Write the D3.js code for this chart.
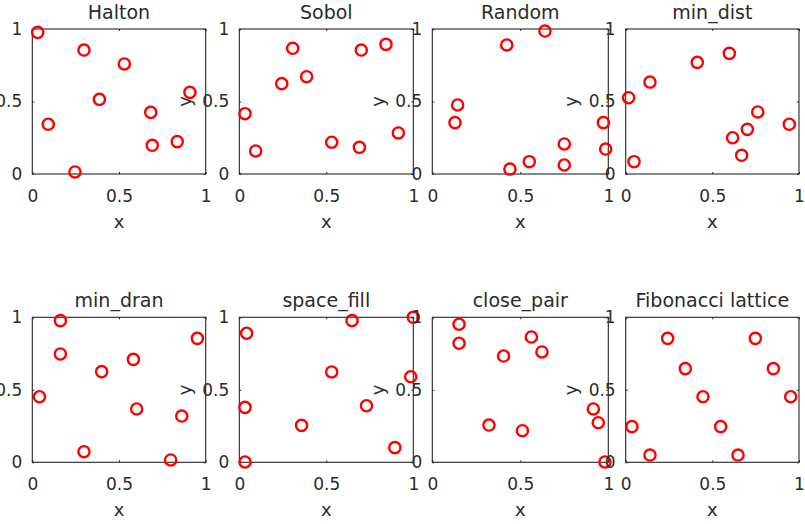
<!DOCTYPE html>
<html><head><meta charset="utf-8">
<script src="https://cdn.jsdelivr.net/npm/d3@7"></script>
<style>
html,body{margin:0;padding:0;background:#fff;}
svg{display:block;}
text{font-family:"DejaVu Sans",sans-serif;fill:#2b2b2b;}
</style></head>
<body>
<svg id="chart" width="805" height="524"></svg>
<script>
// ---- data ----
const titles = ["Halton","Sobol","Random","min_dist","min_dran","space_fill","close_pair","Fibonacci lattice"];
const tickValues = [0, 0.5, 1];
const tickLabels = ["0", "0.5", "1"];
const xLabel = "x";
const yLabel = "y";

const haltonX = [0.031,0.298,0.531,0.909,0.387,0.683,0.092,0.836,0.692,0.246];
const haltonY = [0.977,0.855,0.759,0.563,0.515,0.425,0.343,0.223,0.198,0.014];
const sobolX  = [0.307,0.701,0.843,0.387,0.244,0.033,0.914,0.531,0.690,0.094];
const sobolY  = [0.867,0.855,0.894,0.671,0.623,0.416,0.283,0.219,0.184,0.159];
const randomX = [0.640,0.423,0.144,0.129,0.972,0.750,0.985,0.551,0.750,0.441];
const randomY = [0.986,0.890,0.476,0.354,0.354,0.207,0.172,0.085,0.062,0.034];
const minDistX = [0.598,0.413,0.140,0.017,0.762,0.944,0.702,0.617,0.669,0.048];
const minDistY = [0.832,0.770,0.634,0.526,0.428,0.343,0.308,0.250,0.129,0.085];
const minDranX = [0.162,0.952,0.162,0.583,0.400,0.041,0.602,0.862,0.298,0.798];
const minDranY = [0.977,0.855,0.747,0.710,0.625,0.452,0.368,0.319,0.073,0.016];
const spaceFillX = [0.648,1.000,0.042,0.531,0.985,0.033,0.731,0.358,0.894,0.033];
const spaceFillY = [0.977,1.000,0.890,0.623,0.590,0.379,0.390,0.255,0.101,0.002];
const closePairX = [0.152,0.152,0.563,0.623,0.405,0.915,0.943,0.322,0.512,0.981];
const closePairY = [0.952,0.821,0.864,0.761,0.733,0.368,0.273,0.257,0.218,0.002];
const fibX = [0.242,0.748,0.344,0.852,0.446,0.952,0.036,0.548,0.140,0.648];
const fibY = [0.855,0.855,0.646,0.646,0.452,0.452,0.246,0.246,0.050,0.050];

const seriesX = [haltonX, sobolX, randomX, minDistX, minDranX, spaceFillX, closePairX, fibX];
const seriesY = [haltonY, sobolY, randomY, minDistY, minDranY, spaceFillY, closePairY, fibY];

// ---- layout ----
const colLeft  = [32.3, 239.3, 432.3, 625.7];
const colRight = [205.7, 413.3, 608.3, 799];
const rowTop    = [29, 317.3];
const rowBottom = [174, 462.3];
const ink = "#262626";
const textInk = "#2b2b2b";

const svg = d3.select("#chart");

titles.forEach((title, i) => {
  const c = i % 4, r = Math.floor(i / 4);
  const x = d3.scaleLinear().domain([0, 1]).range([colLeft[c], colRight[c]]);
  const y = d3.scaleLinear().domain([0, 1]).range([rowBottom[r], rowTop[r]]);
  const g = svg.append("g");

  // box
  g.append("rect")
    .attr("x", x(0)).attr("y", y(1))
    .attr("width", x(1) - x(0)).attr("height", y(0) - y(1))
    .attr("fill", "none").attr("stroke", ink).attr("stroke-width", 1.1);

  const fmt = (d) => tickLabels[tickValues.indexOf(d)];

  // bottom axis
  const xa = g.append("g").attr("transform", `translate(0,${y(0)})`)
    .call(d3.axisBottom(x).tickValues(tickValues).tickFormat(fmt).tickSizeInner(-2).tickSizeOuter(0).tickPadding(15.5));
  // left axis
  const ya = g.append("g").attr("transform", `translate(${x(0)},0)`)
    .call(d3.axisLeft(y).tickValues(tickValues).tickFormat(fmt).tickSizeInner(-2).tickSizeOuter(0).tickPadding(10));
  // mirrored ticks (top/right)
  const xt = g.append("g").attr("transform", `translate(0,${y(1)})`)
    .call(d3.axisTop(x).tickValues(tickValues).tickFormat("").tickSizeInner(-2).tickSizeOuter(0));
  const yr = g.append("g").attr("transform", `translate(${x(1)},0)`)
    .call(d3.axisRight(y).tickValues(tickValues).tickFormat("").tickSizeInner(-2).tickSizeOuter(0));
  [xa, ya, xt, yr].forEach(a => {
    a.select(".domain").remove();
    a.selectAll("line").attr("stroke", ink);
    a.selectAll("text").attr("font-size", 17).attr("font-family", "DejaVu Sans, sans-serif").attr("fill", textInk);
  });

  // title
  g.append("text").attr("x", (x(0) + x(1)) / 2).attr("y", y(1) - 10)
    .attr("text-anchor", "middle").attr("font-size", 19).text(title);
  // x label
  g.append("text").attr("x", (x(0) + x(1)) / 2).attr("y", y(0) + 54)
    .attr("text-anchor", "middle").attr("font-size", 18).text(xLabel);
  // y label
  g.append("text")
    .attr("transform", `translate(${x(0) - 55},${(y(0) + y(1)) / 2}) rotate(-90)`)
    .attr("text-anchor", "middle").attr("dy", "0.35em").attr("font-size", 18).text(yLabel);

  // markers
  const pts = seriesX[i].map((vx, k) => ({ x: vx, y: seriesY[i][k] }));
  g.selectAll("circle.pt").data(pts).join("circle")
    .attr("class", "pt")
    .attr("cx", d => x(d.x)).attr("cy", d => y(d.y)).attr("r", 5.6)
    .attr("fill", "none").attr("stroke", "#ff0000").attr("stroke-width", 2.4);
});
</script>
</body></html>
